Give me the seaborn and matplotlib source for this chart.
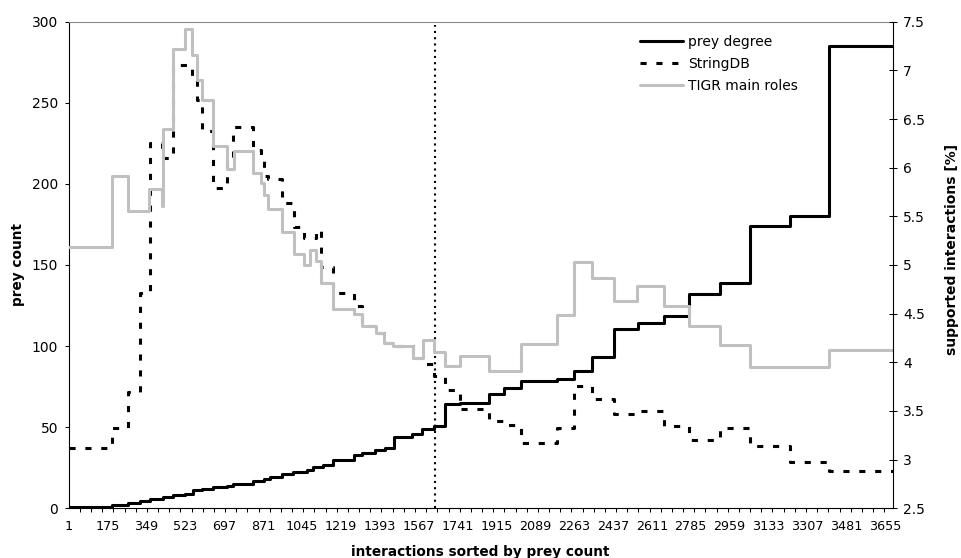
import numpy as np
import pandas as pd
import matplotlib
matplotlib.use("Agg")
import matplotlib.pyplot as plt
import seaborn as sns
from matplotlib.ticker import FixedLocator, FuncFormatter

# ---- data -------------------------------------------------------------
n_interactions = 3689          # interactions on the x axis (sorted by prey count)
cutoff_interaction = 1641      # position of the dotted marker line

# prey degree per bin (left axis, prey count); each value starts at its edge
degree_edges = [1, 193, 268, 320, 365, 425, 469, 522, 559, 597, 648, 709, 738, 828,
                873, 902, 955, 1007, 1067, 1096, 1141, 1186, 1276, 1313, 1373, 1417,
                1455, 1537, 1582, 1634, 1686, 1753, 1880, 1950, 2025, 2186, 2261, 2343,
                2440, 2547, 2664, 2779, 2915, 3052, 3228, 3406]
degree_values = [1, 2, 3.5, 4.5, 5.5, 7, 8, 9, 11, 12, 13, 14, 15, 16.6, 18, 19.5, 21,
                 22.6, 23.6, 25.3, 27, 29.8, 33, 34.3, 36, 37, 44, 45.8, 49, 51, 64.3,
                 65.1, 70.3, 74.4, 78.5, 79.5, 84.6, 93.1, 110.4, 114.4, 118.6, 132.1,
                 139.1, 174.2, 180.2, 285]

# StringDB supported interactions [%] (right axis)
string_edges = [1, 193, 268, 320, 363, 418, 469, 552, 574, 597, 648, 709, 738, 828, 861,
                877, 895, 955, 1010, 1055, 1108, 1129, 1186, 1276, 1313, 1377, 1410,
                1452, 1541, 1586, 1634, 1686, 1753, 1880, 1950, 2025, 2186, 2261, 2343,
                2440, 2547, 2664, 2779, 2915, 3052, 3228, 3406]
string_values = [3.12, 3.32, 3.69, 4.71, 6.25, 6.10, 7.05, 6.93, 6.70, 6.38, 5.79, 6.08,
                 6.42, 6.18, 6.08, 5.91, 5.88, 5.64, 5.39, 5.28, 5.36, 4.98, 4.71, 4.58,
                 4.37, 4.30, 4.20, 4.17, 4.04, 3.98, 3.86, 3.72, 3.52, 3.40, 3.36, 3.17,
                 3.32, 3.76, 3.62, 3.47, 3.50, 3.35, 3.20, 3.33, 3.14, 2.98, 2.88]

# TIGR main roles supported interactions [%] (right axis)
tigr_edges = [1, 193, 268, 362, 417, 425, 467, 522, 552, 574, 597, 648, 709, 741, 828,
              861, 877, 895, 955, 1010, 1055, 1079, 1108, 1129, 1186, 1276, 1313, 1377,
              1410, 1452, 1541, 1586, 1634, 1686, 1753, 1880, 2025, 2186, 2261, 2343,
              2440, 2544, 2664, 2779, 2915, 3052, 3406]
tigr_values = [5.19, 5.91, 5.55, 5.78, 5.61, 6.40, 7.22, 7.42, 7.16, 6.90, 6.70, 6.22,
               5.99, 6.17, 5.95, 5.84, 5.72, 5.58, 5.34, 5.11, 5.00, 5.15, 5.04, 4.81,
               4.55, 4.50, 4.37, 4.30, 4.20, 4.17, 4.04, 4.23, 4.11, 3.96, 4.06, 3.91,
               4.19, 4.49, 5.03, 4.87, 4.63, 4.78, 4.58, 4.37, 4.18, 3.95, 4.13]

x_tick_values = list(range(1, 3656, 174))
left_ticks = [0, 50, 100, 150, 200, 250, 300]
right_ticks = [2.5, 3, 3.5, 4, 4.5, 5, 5.5, 6, 6.5, 7, 7.5]


def step_table(edges, values, last):
    """Table for a post-step line: every bin value plus the closing edge."""
    return pd.DataFrame({"x": list(edges) + [last],
                         "y": list(values) + [values[-1]]})


# ---- style ------------------------------------------------------------
sns.set_theme(style="white")
plt.rcParams["font.family"] = ["DejaVu Sans"]
plt.rcParams["text.color"] = "black"
plt.rcParams["axes.labelcolor"] = "black"

fig = plt.figure(figsize=(9.61, 5.58), dpi=100)
ax = fig.add_axes([68.7 / 961, 1 - 508.3 / 558, 824.0 / 961, 486.6 / 558])
ax2 = ax.twinx()

lw = 2.2
sns.lineplot(data=step_table(degree_edges, degree_values, n_interactions), x="x", y="y",
             ax=ax, color="black", lw=lw, drawstyle="steps-post",
             estimator=None, sort=False, legend=False)
deg_line = ax.lines[-1]

ax.vlines(cutoff_interaction, 0, 298, colors="black", linestyles=(0, (1, 2)), lw=1.5)

sns.lineplot(data=step_table(string_edges, string_values, n_interactions), x="x", y="y",
             ax=ax2, color="black", lw=lw, drawstyle="steps-post",
             estimator=None, sort=False, legend=False)
string_line = ax2.lines[-1]
string_line.set_linestyle((0, (2.0, 3.2)))
string_line.set_dash_capstyle("butt")

sns.lineplot(data=step_table(tigr_edges, tigr_values, n_interactions), x="x", y="y",
             ax=ax2, color="#c0c0c0", lw=lw, drawstyle="steps-post",
             estimator=None, sort=False, legend=False)
tigr_line = ax2.lines[-1]

# ---- axes -------------------------------------------------------------
ax.set_xlim(1, n_interactions)
ax.set_ylim(0, 300)
ax2.set_ylim(2.5, 7.5)

ax.set_xticks(x_tick_values)
ax.set_xticklabels([str(v) for v in x_tick_values])
ax.xaxis.set_minor_locator(FixedLocator(np.arange(1, n_interactions, 50)))
ax.tick_params(axis="x", which="major", length=0, pad=8.5, labelsize=9.2,
               labelcolor="black", bottom=True)
ax.tick_params(axis="x", which="minor", length=2.9, width=0.75, direction="out",
               color="black", bottom=True)

ax.set_yticks(left_ticks)
ax.tick_params(axis="y", which="major", left=True, length=2.9, width=0.75,
               direction="out", color="black", pad=4.8, labelsize=10,
               labelcolor="black")

ax2.set_yticks(right_ticks)
ax2.yaxis.set_major_formatter(FuncFormatter(lambda v, _: f"{v:g}"))
ax2.tick_params(axis="y", which="major", right=True, length=5.8, width=0.75,
                direction="inout", color="black", pad=4.5, labelsize=10,
                labelcolor="black")

for name, spine in ax.spines.items():
    spine.set_visible(name != "right")
    spine.set_linewidth(0.8)
    spine.set_color("black")
ax.spines["top"].set_color("#8c8c8c")
for name, spine in ax2.spines.items():
    spine.set_visible(name == "right")
    spine.set_linewidth(0.8)
    spine.set_color("black")

ax.grid(False)
ax2.grid(False)

ax.set_xlabel("interactions sorted by prey count", fontsize=9.8, fontweight="bold")
ax.set_ylabel("prey count", fontsize=9.8, fontweight="bold")
ax2.set_ylabel("supported interactions [%]", fontsize=10, fontweight="bold")
ax.xaxis.set_label_coords(0.5, -0.0754)
ax.yaxis.set_label_coords(-0.053, 0.502)
ax2.yaxis.set_label_coords(1.0635, 0.531)

ax2.legend(handles=[deg_line, string_line, tigr_line],
           labels=["prey degree", "StringDB", "TIGR main roles"],
           loc="upper left", bbox_to_anchor=(640 / 961, 1 - 35 / 558),
           bbox_transform=fig.transFigure, frameon=False, fontsize=10,
           handlelength=3.1, handletextpad=0.35, borderpad=0, borderaxespad=0,
           labelspacing=0.56)

fig.savefig("out.png", dpi=100)
